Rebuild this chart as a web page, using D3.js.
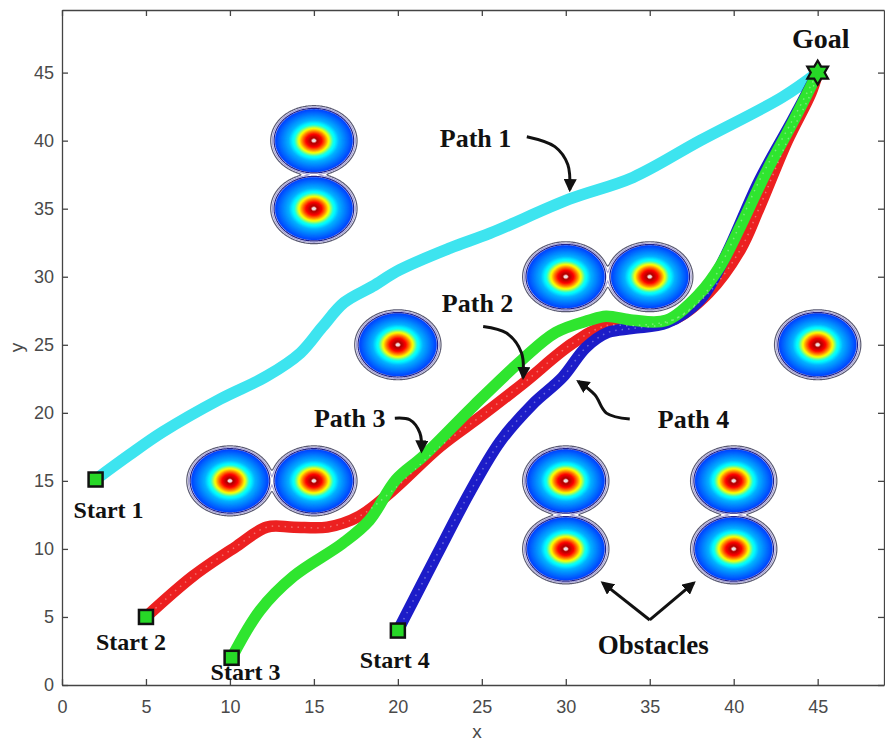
<!DOCTYPE html>
<html>
<head>
<meta charset="utf-8">
<script src="https://cdn.jsdelivr.net/npm/d3@7"></script>
<style>
  html, body { margin: 0; padding: 0; background: #fff; }
  svg { display: block; }
  .tick text { font-family: "Liberation Sans", Arial, sans-serif; font-size: 18px; fill: #4a4a4a; }
  .note { font-family: "Liberation Serif", "Times New Roman", serif; font-weight: bold; fill: #111; }
</style>
</head>
<body>
<div id="chart"></div>
<script>
const WIDTH = 885;
const HEIGHT = 745;

const X_TICKS = [0, 5, 10, 15, 20, 25, 30, 35, 40, 45];
const Y_TICKS = [0, 5, 10, 15, 20, 25, 30, 35, 40, 45];

// obstacle centres
const OBSTACLE_X = [15, 15, 20, 30, 35, 10, 15, 30, 30, 40, 40, 45];
const OBSTACLE_Y = [40, 35, 25, 30, 30, 15, 15, 15, 10, 15, 10, 25];

// paths
const PATH1_X = [2, 4, 6, 9.4, 12.2, 14.2, 15.5, 16.8, 18.5, 20.1, 23.1, 25.5, 30.2, 34, 38, 42.9, 45];
const PATH1_Y = [15.1, 16.9, 18.6, 21, 22.7, 24.4, 26.3, 28.1, 29.3, 30.5, 32.1, 33.2, 35.7, 37.3, 40, 43.2, 45];
const PATH2_X = [5, 7.8, 10.4, 12.2, 13.8, 15.8, 17.7, 19.6, 22.5, 25, 27.5, 30.4, 32.4, 34, 36.5, 38.5, 40.4, 41.5, 43.2, 44.6, 45];
const PATH2_Y = [5, 8, 10.2, 11.6, 11.6, 11.6, 12.4, 14.2, 17.5, 19.8, 22.2, 25.1, 26.4, 26.4, 26.9, 28.8, 32, 35, 40, 43.5, 45];
const PATH3_X = [10.1, 11.8, 13.8, 16.7, 18.3, 19.9, 21.5, 24.5, 27.4, 29.4, 31.4, 32.4, 34, 36, 38, 39.2, 40.4, 41.9, 43.5, 45];
const PATH3_Y = [2, 5.5, 8, 10.4, 12.1, 15.1, 16.8, 20.5, 23.9, 25.9, 26.8, 27.1, 26.8, 26.8, 28.8, 30.8, 33.7, 37.6, 41.3, 45];
const PATH4_X = [20, 22.3, 24.3, 26.1, 28, 29.8, 31.2, 32.5, 34, 36, 38, 39.5, 41.5, 43.5, 45];
const PATH4_Y = [4, 9.5, 14.2, 17.9, 20.6, 22.6, 24.8, 25.9, 26.2, 26.6, 28.3, 31.5, 37, 41.5, 45];

const GOAL_X = 45;
const GOAL_Y = 45;

const paths = [
  { name: 'Path 1', color: '#3de4ef', xs: PATH1_X, ys: PATH1_Y },
  { name: 'Path 2', color: '#ec2020', xs: PATH2_X, ys: PATH2_Y },
  { name: 'Path 4', color: '#1c1cc8', xs: PATH4_X, ys: PATH4_Y },
  { name: 'Path 3', color: '#2fe52f', xs: PATH3_X, ys: PATH3_Y }
];

const svg = d3.select('#chart').append('svg')
  .attr('width', WIDTH)
  .attr('height', HEIGHT);

const x = d3.scaleLinear().domain([0, 48.95]).range([62, 884]);
const y = d3.scaleLinear().domain([0, 49.6]).range([685, 10]);

const defs = svg.append('defs');
defs.append('clipPath').attr('id', 'plot-clip')
  .append('rect')
  .attr('x', x(0)).attr('y', y(49.6))
  .attr('width', x(48.95) - x(0)).attr('height', y(0) - y(49.6));
defs.append('marker')
  .attr('id', 'arrow')
  .attr('viewBox', '0 0 10 10')
  .attr('refX', 8).attr('refY', 5)
  .attr('markerWidth', 4.4).attr('markerHeight', 4.4)
  .attr('orient', 'auto')
  .append('path')
  .attr('d', 'M0,0 L10,5 L0,10 z')
  .attr('fill', '#111');

const plot = svg.append('g').attr('clip-path', 'url(#plot-clip)');

// ---- obstacle potential field, drawn as contours ----
const H = 0.05;
const S2 = 0.36;
const nx = Math.ceil(x.domain()[1] / H) + 1;
const ny = Math.ceil(y.domain()[1] / H) + 1;
const values = new Float64Array(nx * ny);
for (let j = 0; j < ny; j++) {
  const gy = j * H;
  for (let i = 0; i < nx; i++) {
    const gx = i * H;
    let m = -Infinity;
    const e = [];
    for (let k = 0; k < OBSTACLE_X.length; k++) {
      const dx = gx - OBSTACLE_X[k], dy = gy - OBSTACLE_Y[k];
      const v = -(dx * dx + dy * dy) / S2;
      e.push(v);
      if (v > m) m = v;
    }
    let s = 0;
    for (const v of e) s += Math.exp(v - m);
    values[j * nx + i] = Math.max(m + Math.log(s), -5000);
  }
}
const level = r => -(r * r) / S2;
const gridProj = d3.geoTransform({
  point(px, py) { this.stream.point(x((px - 0.5) * H), y((py - 0.5) * H)); }
});
const gridPath = d3.geoPath(gridProj);

const jet = d3.scaleLinear()
  .domain([0, 0.125, 0.375, 0.625, 0.875, 1])
  .range(['#00008f', '#0000ff', '#00ffff', '#ffff00', '#ff0000', '#800000']);
const R0 = 2.3;
// fraction of radius -> colormap position
const radial = d3.scaleLinear()
  .domain([1, 0.65, 0.5, 0.4, 0.3, 0.2, 0.1])
  .range([0.19, 0.3, 0.4, 0.6, 0.75, 0.88, 0.95])
  .clamp(true);
const bandColor = r => jet(radial(r / R0));

const bandRadii = d3.range(R0, 0.17, -0.04);
const ringRadii = [2.57, 2.47, 2.37];
const ringColors = ['#5a5a72', '#a6a2d4', '#22228c'];
const contourGen = d3.contours().size([nx, ny]);

const fills = contourGen.thresholds(bandRadii.map(level))(values);
plot.append('g').selectAll('path')
  .data(fills)
  .join('path')
  .attr('d', gridPath)
  .attr('fill', (d, i) => bandColor(bandRadii[i]))
  .attr('stroke', (d, i) => bandColor(bandRadii[i]))
  .attr('stroke-width', 0.6);

const centre = contourGen.thresholds([level(0.15)])(values);
plot.append('g').selectAll('path')
  .data(centre)
  .join('path')
  .attr('d', gridPath)
  .attr('fill', '#f1dede')
  .attr('stroke', '#d04848')
  .attr('stroke-width', 0.7);

const rings = contourGen.thresholds(ringRadii.map(level))(values);
plot.append('g').selectAll('path')
  .data(rings)
  .join('path')
  .attr('d', gridPath)
  .attr('fill', 'none')
  .attr('stroke', (d, i) => ringColors[i])
  .attr('stroke-width', 1.2);

// ---- paths ----
const line = d3.line()
  .x(d => x(d[0]))
  .y(d => y(d[1]))
  .curve(d3.curveCatmullRom.alpha(0.5));

plot.append('g').selectAll('path')
  .data(paths)
  .join('path')
  .attr('d', p => line(p.xs.map((v, i) => [v, p.ys[i]])))
  .attr('fill', 'none')
  .attr('stroke', p => p.color)
  .attr('stroke-width', 11.5)
  .attr('stroke-linecap', 'round')
  .attr('stroke-linejoin', 'round');

// marker texture on red and blue
plot.append('g').selectAll('path')
  .data(paths.filter(p => p.name === 'Path 2' || p.name === 'Path 4'))
  .join('path')
  .attr('d', p => line(p.xs.map((v, i) => [v, p.ys[i]])))
  .attr('fill', 'none')
  .attr('stroke', '#fff')
  .attr('stroke-opacity', 0.35)
  .attr('stroke-width', 1.5)
  .attr('stroke-dasharray', '1.5 5');

// ---- start and goal markers ----
const starts = [PATH1_X, PATH2_X, PATH3_X, PATH4_X].map((xs, i) => [xs[0], [PATH1_Y, PATH2_Y, PATH3_Y, PATH4_Y][i][0]]);
svg.append('g').selectAll('rect')
  .data(starts)
  .join('rect')
  .attr('x', d => x(d[0]) - 7)
  .attr('y', d => y(d[1]) - 7)
  .attr('width', 14)
  .attr('height', 14)
  .attr('fill', '#27d827')
  .attr('stroke', '#111')
  .attr('stroke-width', 2.5);

const hexagram = {
  draw(context, size) {
    const R = Math.sqrt(size) / 2, r = R / Math.sqrt(3);
    for (let k = 0; k < 12; k++) {
      const a = -Math.PI / 2 + k * Math.PI / 6;
      const rad = k % 2 ? r : R;
      if (k === 0) context.moveTo(rad * Math.cos(a), rad * Math.sin(a));
      else context.lineTo(rad * Math.cos(a), rad * Math.sin(a));
    }
    context.closePath();
  }
};
svg.append('path')
  .attr('d', d3.symbol().type(hexagram).size(24 * 24)())
  .attr('transform', `translate(${x(GOAL_X)},${y(GOAL_Y)})`)
  .attr('fill', '#27d827')
  .attr('stroke', '#111')
  .attr('stroke-width', 2.2);

// ---- axes ----
const frame = svg.append('g');
frame.append('g')
  .attr('transform', `translate(0,${y(0)})`)
  .call(d3.axisBottom(x).tickValues(X_TICKS).tickSize(-6).tickSizeOuter(0).tickPadding(15));
frame.append('g')
  .attr('transform', `translate(${x(0)},0)`)
  .call(d3.axisLeft(y).tickValues(Y_TICKS).tickSize(-6).tickSizeOuter(0).tickPadding(8));
frame.append('g')
  .attr('transform', `translate(0,${y(49.6)})`)
  .call(d3.axisTop(x).tickValues(X_TICKS).tickSize(-6).tickSizeOuter(0).tickFormat(''));
frame.append('g')
  .attr('transform', `translate(${x(48.95)},0)`)
  .call(d3.axisRight(y).tickValues(Y_TICKS).tickSize(-6).tickSizeOuter(0).tickFormat(''));
frame.selectAll('.domain, .tick line').attr('stroke', '#444').attr('stroke-width', 1.3);

svg.append('text')
  .attr('x', (x(0) + x(48.95)) / 2 + 4)
  .attr('y', 738)
  .attr('text-anchor', 'middle')
  .style('font-family', '"Liberation Sans", Arial, sans-serif')
  .style('font-size', '19px')
  .attr('fill', '#4a4a4a')
  .text('x');
svg.append('text')
  .attr('transform', `translate(23,${(y(0) + y(49.6)) / 2}) rotate(-90)`)
  .attr('text-anchor', 'middle')
  .style('font-family', '"Liberation Sans", Arial, sans-serif')
  .style('font-size', '19px')
  .attr('fill', '#4a4a4a')
  .text('y');

// ---- annotations ----
const arrows = [
  [[27.68, 40.29], [29.35, 39.56], [30.12, 38.24], [30.24, 36.4]],
  [[25.08, 26.35], [26.47, 25.86], [27.36, 24.41], [27.46, 22.6]],
  [[19.82, 19.61], [20.71, 19.49], [21.31, 18.53], [21.41, 17.2]],
  [[33.81, 19.54], [32.42, 19.98], [31.73, 21.32], [30.75, 22.3]],
  [[35, 4.78], [32.2, 7.5]],
  [[35, 4.78], [37.62, 7.5]]
];
const arrowLine = d3.line()
  .x(d => x(d[0]))
  .y(d => y(d[1]))
  .curve(d3.curveCatmullRom.alpha(0.5));
svg.append('g').selectAll('path')
  .data(arrows)
  .join('path')
  .attr('d', arrowLine)
  .attr('fill', 'none')
  .attr('stroke', '#111')
  .attr('stroke-width', 3)
  .attr('marker-end', 'url(#arrow)');

const notes = [
  { text: 'Goal', x: GOAL_X, y: GOAL_Y, dx: 3, dy: -25, size: 28, anchor: 'middle' },
  { text: 'Start 1', x: starts[0][0], y: starts[0][1], dx: 13, dy: 38, size: 24, anchor: 'middle' },
  { text: 'Start 2', x: starts[1][0], y: starts[1][1], dx: -15, dy: 33, size: 24, anchor: 'middle' },
  { text: 'Start 3', x: starts[2][0], y: starts[2][1], dx: 14, dy: 22, size: 24, anchor: 'middle' },
  { text: 'Start 4', x: starts[3][0], y: starts[3][1], dx: -3, dy: 37, size: 24, anchor: 'middle' },
  { text: 'Path 1', x: 22.5, y: 39.56, dx: 0, dy: 0, size: 26, anchor: 'start' },
  { text: 'Path 2', x: 22.62, y: 27.43, dx: 0, dy: 0, size: 26, anchor: 'start' },
  { text: 'Path 3', x: 15.0, y: 18.97, dx: 0, dy: 0, size: 26, anchor: 'start' },
  { text: 'Path 4', x: 35.48, y: 18.9, dx: 0, dy: 0, size: 26, anchor: 'start' },
  { text: 'Obstacles', x: 31.9, y: 2.28, dx: 0, dy: 0, size: 27, anchor: 'start' }
];
svg.append('g').selectAll('text')
  .data(notes)
  .join('text')
  .attr('class', 'note')
  .attr('x', d => x(d.x) + d.dx)
  .attr('y', d => y(d.y) + d.dy)
  .attr('text-anchor', d => d.anchor)
  .style('font-size', d => d.size + 'px')
  .text(d => d.text);
</script>
</body>
</html>
